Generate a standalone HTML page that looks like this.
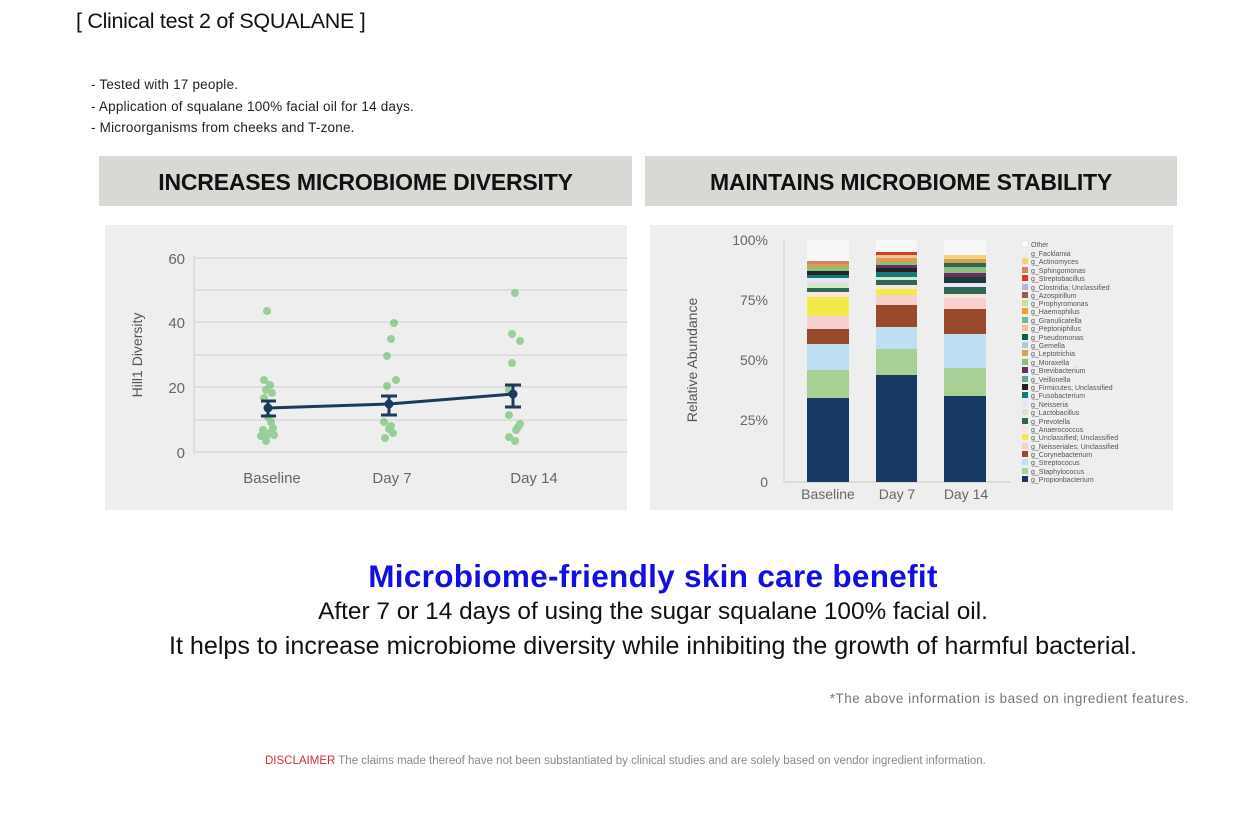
<!DOCTYPE html>
<html><head><meta charset="utf-8"><style>
body{margin:0;width:1258px;height:814px;background:#fff;font-family:"Liberation Sans",sans-serif;position:relative;overflow:hidden}
.a{position:absolute;white-space:nowrap}
.hdr{position:absolute;top:156px;height:50px;background:#d8d9d5;font-weight:bold;font-size:23px;line-height:52px;text-align:center;color:#111;letter-spacing:-0.2px}
</style></head><body>
<div class="a" style="left:76px;top:9px;font-size:21.5px;color:#111;letter-spacing:-0.3px">[ Clinical test 2 of SQUALANE ]</div>
<div class="a" style="left:91px;top:74px;font-size:13.5px;color:#222;line-height:21.5px;letter-spacing:0.2px">- Tested with 17 people.<br>- Application of squalane 100% facial oil for 14 days.<br>- Microorganisms from cheeks and T-zone.</div>
<div class="hdr" style="left:99px;width:533px">INCREASES MICROBIOME DIVERSITY</div>
<div class="hdr" style="left:645px;width:532px">MAINTAINS MICROBIOME STABILITY</div>

<svg class="a" style="left:0;top:0" width="1258" height="814" font-family="Liberation Sans,sans-serif">
<rect x="105" y="225" width="522" height="285" fill="#eeeeee"/>
<g stroke="#d4d4d4" stroke-width="1.2">
<line x1="194" y1="258" x2="627" y2="258"/><line x1="194" y1="290" x2="627" y2="290"/><line x1="194" y1="322" x2="627" y2="322"/><line x1="194" y1="355" x2="627" y2="355"/><line x1="194" y1="387" x2="627" y2="387"/><line x1="194" y1="420" x2="627" y2="420"/><line x1="194" y1="452" x2="627" y2="452"/>
<line x1="194" y1="256" x2="194" y2="454"/></g>
<g fill="#666" font-size="15" text-anchor="end"><text x="185" y="264">60</text><text x="185" y="328">40</text><text x="185" y="393">20</text><text x="185" y="458">0</text></g>
<text x="142" y="355" fill="#555" font-size="14" text-anchor="middle" transform="rotate(-90 142 355)">Hill1 Diversity</text>
<g fill="#666" font-size="15" text-anchor="middle"><text x="272" y="483">Baseline</text><text x="392" y="483">Day 7</text><text x="534" y="483">Day 14</text></g>
<g fill="#7cc47a" opacity="0.75">
<circle cx="267" cy="311" r="4"/><circle cx="264" cy="380" r="4"/><circle cx="270" cy="385" r="4"/><circle cx="266" cy="390" r="4"/><circle cx="272" cy="393" r="4"/><circle cx="264" cy="398" r="4"/><circle cx="268" cy="417" r="4"/><circle cx="271" cy="422" r="4"/><circle cx="263" cy="430" r="4"/><circle cx="270" cy="433" r="4"/><circle cx="266" cy="437" r="4"/><circle cx="274" cy="435" r="4"/><circle cx="261" cy="436" r="4"/><circle cx="266" cy="441" r="4"/><circle cx="273" cy="428" r="4"/>
<circle cx="394" cy="323" r="4"/><circle cx="391" cy="339" r="4"/><circle cx="387" cy="356" r="4"/><circle cx="396" cy="380" r="4"/><circle cx="387" cy="386" r="4"/><circle cx="384" cy="422" r="4"/><circle cx="389" cy="429" r="4"/><circle cx="393" cy="433" r="4"/><circle cx="385" cy="438" r="4"/><circle cx="391" cy="426" r="4"/>
<circle cx="515" cy="293" r="4"/><circle cx="512" cy="334" r="4"/><circle cx="520" cy="341" r="4"/><circle cx="512" cy="363" r="4"/><circle cx="509" cy="390" r="4"/><circle cx="509" cy="415" r="4"/><circle cx="518" cy="427" r="4"/><circle cx="516" cy="430" r="4"/><circle cx="509" cy="437" r="4"/><circle cx="515" cy="441" r="4"/><circle cx="520" cy="424" r="4"/>
</g>
<g stroke="#1b3a5c" stroke-width="3" fill="none">
<polyline points="268,408 389,404 513,394"/>
<line x1="268" y1="401" x2="268" y2="416"/><line x1="261" y1="401" x2="276" y2="401"/><line x1="261" y1="416" x2="276" y2="416"/>
<line x1="389" y1="396" x2="389" y2="415"/><line x1="381" y1="396" x2="397" y2="396"/><line x1="381" y1="415" x2="397" y2="415"/>
<line x1="513" y1="385" x2="513" y2="407"/><line x1="505" y1="385" x2="521" y2="385"/><line x1="505" y1="407" x2="521" y2="407"/>
</g>
<g fill="#1b3a5c"><circle cx="268" cy="408" r="4.5"/><circle cx="389" cy="404" r="4.5"/><circle cx="513" cy="394" r="4.5"/></g>

<rect x="650" y="225" width="523" height="285" fill="#eeeeee"/>
<g stroke="#d0d0d0" stroke-width="1.2"><line x1="784" y1="240" x2="784" y2="482"/><line x1="784" y1="482" x2="1010" y2="482"/></g>
<g fill="#666" font-size="14" text-anchor="end"><text x="768" y="245">100%</text><text x="768" y="305">75%</text><text x="768" y="365">50%</text><text x="768" y="425">25%</text><text x="768" y="487">0</text></g>
<text x="697" y="360" fill="#555" font-size="14" text-anchor="middle" transform="rotate(-90 697 360)">Relative Abundance</text>
<g fill="#666" font-size="14" text-anchor="middle"><text x="828" y="499">Baseline</text><text x="897" y="499">Day 7</text><text x="966" y="499">Day 14</text></g>
<g fill="#f7f7f7"><rect x="807" y="240" width="42" height="21"/><rect x="876" y="240" width="41" height="12"/><rect x="944" y="240" width="42" height="15"/></g>
<rect x="807" y="398" width="42" height="84" fill="#173a63"/>
<rect x="807" y="370" width="42" height="28" fill="#a8cf94"/>
<rect x="807" y="344" width="42" height="26" fill="#bfe0f2"/>
<rect x="807" y="329" width="42" height="15" fill="#9a4a2c"/>
<rect x="807" y="316" width="42" height="13" fill="#f8cfcf"/>
<rect x="807" y="297" width="42" height="19" fill="#f2ea4a"/>
<rect x="807" y="292" width="42" height="5" fill="#f8e6d8"/>
<rect x="807" y="288" width="42" height="4" fill="#2f6755"/>
<rect x="807" y="283" width="42" height="5" fill="#d4e8cc"/>
<rect x="807" y="278" width="42" height="5" fill="#e6e6f4"/>
<rect x="807" y="275" width="42" height="3" fill="#0f7a7a"/>
<rect x="807" y="271" width="42" height="4" fill="#222"/>
<rect x="807" y="267" width="42" height="4" fill="#8cbf7c"/>
<rect x="807" y="264" width="42" height="3" fill="#d8a050"/>
<rect x="807" y="261" width="42" height="3" fill="#d0826a"/>
<rect x="876" y="375" width="41" height="107" fill="#173a63"/>
<rect x="876" y="349" width="41" height="26" fill="#a8cf94"/>
<rect x="876" y="327" width="41" height="22" fill="#bfe0f2"/>
<rect x="876" y="305" width="41" height="22" fill="#9a4a2c"/>
<rect x="876" y="295" width="41" height="10" fill="#f8cfcf"/>
<rect x="876" y="289" width="41" height="6" fill="#f2ea4a"/>
<rect x="876" y="285" width="41" height="4" fill="#f8e6d8"/>
<rect x="876" y="280" width="41" height="5" fill="#2f6755"/>
<rect x="876" y="277" width="41" height="3" fill="#d4e8cc"/>
<rect x="876" y="272" width="41" height="5" fill="#0f7a7a"/>
<rect x="876" y="268" width="41" height="4" fill="#222"/>
<rect x="876" y="265" width="41" height="3" fill="#6a2e62"/>
<rect x="876" y="262" width="41" height="3" fill="#8cbf7c"/>
<rect x="876" y="258" width="41" height="4" fill="#d8a050"/>
<rect x="876" y="255" width="41" height="3" fill="#f0c89a"/>
<rect x="876" y="252" width="41" height="3" fill="#d83a2a"/>
<rect x="944" y="396" width="42" height="86" fill="#173a63"/>
<rect x="944" y="368" width="42" height="28" fill="#a8cf94"/>
<rect x="944" y="334" width="42" height="34" fill="#bfe0f2"/>
<rect x="944" y="309" width="42" height="25" fill="#9a4a2c"/>
<rect x="944" y="298" width="42" height="11" fill="#f8cfcf"/>
<rect x="944" y="294" width="42" height="4" fill="#f8e6d8"/>
<rect x="944" y="287" width="42" height="7" fill="#2f6755"/>
<rect x="944" y="283" width="42" height="4" fill="#e6e6f4"/>
<rect x="944" y="277" width="42" height="6" fill="#1c3b3a"/>
<rect x="944" y="273" width="42" height="4" fill="#6a2e62"/>
<rect x="944" y="267" width="42" height="6" fill="#8cbf7c"/>
<rect x="944" y="263" width="42" height="4" fill="#2f6755"/>
<rect x="944" y="259" width="42" height="4" fill="#d8a050"/>
<rect x="944" y="255" width="42" height="4" fill="#f5d27a"/>
<g font-size="7" fill="#555">
<rect x="1022" y="241" width="6" height="6" fill="#fff" stroke="#ddd" stroke-width=".5"/><text x="1031" y="247">Other</text>
<rect x="1022" y="250" width="6" height="6" fill="#e6eef8"/><text x="1031" y="256">g_Facklamia</text>
<rect x="1022" y="258" width="6" height="6" fill="#f5d27a"/><text x="1031" y="264">g_Actinomyces</text>
<rect x="1022" y="267" width="6" height="6" fill="#d0826a"/><text x="1031" y="273">g_Sphingomonas</text>
<rect x="1022" y="275" width="6" height="6" fill="#d83a2a"/><text x="1031" y="281">g_Streptobacillus</text>
<rect x="1022" y="284" width="6" height="6" fill="#b8b0d8"/><text x="1031" y="290">g_Clostridia; Unclassified</text>
<rect x="1022" y="292" width="6" height="6" fill="#9a5a50"/><text x="1031" y="298">g_Azospirillum</text>
<rect x="1022" y="300" width="6" height="6" fill="#c4e29a"/><text x="1031" y="306">g_Prophyromonas</text>
<rect x="1022" y="308" width="6" height="6" fill="#f0a030"/><text x="1031" y="314">g_Haemophilus</text>
<rect x="1022" y="317" width="6" height="6" fill="#6abf8a"/><text x="1031" y="323">g_Granulicatella</text>
<rect x="1022" y="325" width="6" height="6" fill="#f0c09a"/><text x="1031" y="331">g_Peptoniphilus</text>
<rect x="1022" y="334" width="6" height="6" fill="#0e5e48"/><text x="1031" y="340">g_Pseudomonas</text>
<rect x="1022" y="342" width="6" height="6" fill="#a8d0d0"/><text x="1031" y="348">g_Gemella</text>
<rect x="1022" y="350" width="6" height="6" fill="#d8a050"/><text x="1031" y="356">g_Leptotrichia</text>
<rect x="1022" y="359" width="6" height="6" fill="#8cbf7c"/><text x="1031" y="365">g_Moraxella</text>
<rect x="1022" y="367" width="6" height="6" fill="#6a2e62"/><text x="1031" y="373">g_Brevibacterium</text>
<rect x="1022" y="376" width="6" height="6" fill="#5aaa98"/><text x="1031" y="382">g_Veillonella</text>
<rect x="1022" y="384" width="6" height="6" fill="#222"/><text x="1031" y="390">g_Firmicutes; Unclassified</text>
<rect x="1022" y="392" width="6" height="6" fill="#0f7a7a"/><text x="1031" y="398">g_Fusobacterium</text>
<rect x="1022" y="401" width="6" height="6" fill="#e6e6f4"/><text x="1031" y="407">g_Neisseria</text>
<rect x="1022" y="409" width="6" height="6" fill="#d4e8cc"/><text x="1031" y="415">g_Lactobacillus</text>
<rect x="1022" y="418" width="6" height="6" fill="#2f6755"/><text x="1031" y="424">g_Prevotella</text>
<rect x="1022" y="426" width="6" height="6" fill="#f8e6d8"/><text x="1031" y="432">g_Anaerococcus</text>
<rect x="1022" y="434" width="6" height="6" fill="#f2ea4a"/><text x="1031" y="440">g_Unclassified; Unclassified</text>
<rect x="1022" y="443" width="6" height="6" fill="#f8cfcf"/><text x="1031" y="449">g_Neisseriales; Unclassified</text>
<rect x="1022" y="451" width="6" height="6" fill="#9a4a2c"/><text x="1031" y="457">g_Corynebacterium</text>
<rect x="1022" y="459" width="6" height="6" fill="#bfe0f2"/><text x="1031" y="465">g_Streptococus</text>
<rect x="1022" y="468" width="6" height="6" fill="#a8cf94"/><text x="1031" y="474">g_Staphylococus</text>
<rect x="1022" y="476" width="6" height="6" fill="#173a63"/><text x="1031" y="482">g_Propionbacterium</text>
</g>
</svg>

<div class="a" style="left:0;width:1306px;top:558px;text-align:center;font-size:31.5px;font-weight:bold;color:#1010e0;letter-spacing:0.3px">Microbiome-friendly skin care benefit</div>
<div class="a" style="left:0;width:1306px;top:598px;text-align:center;font-size:24.4px;color:#111">After 7 or 14 days of using the sugar squalane 100% facial oil.</div>
<div class="a" style="left:0;width:1306px;top:632px;text-align:center;font-size:25.1px;color:#111">It helps to increase microbiome diversity while inhibiting the growth of harmful bacterial.</div>
<div class="a" style="right:69px;top:691px;font-size:13.5px;color:#777;letter-spacing:0.5px">*The above information is based on ingredient features.</div>
<div class="a" style="left:265px;top:755px;font-size:11.5px;color:#888">
<span style="color:#d03030">DISCLAIMER</span> The claims made thereof have not been substantiated by clinical studies and are solely based on vendor ingredient information.</div>
</body></html>
